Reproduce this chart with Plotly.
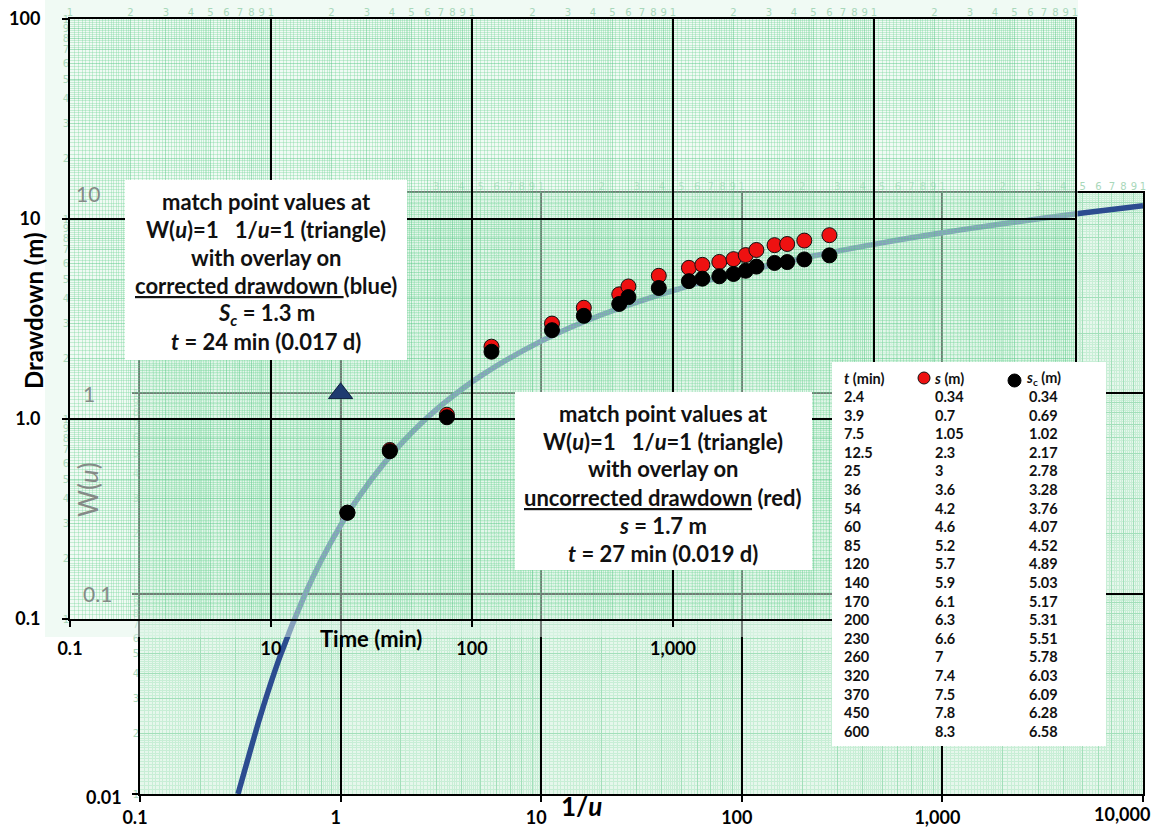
import math
import plotly.graph_objects as go

W, H = 1159, 828

# ---------------- data ----------------
t_min = [2.4, 3.9, 7.5, 12.5, 25, 36, 54, 60, 85, 120, 140, 170, 200, 230, 260, 320, 370, 450, 600]
s_m = [0.34, 0.7, 1.05, 2.3, 3, 3.6, 4.2, 4.6, 5.2, 5.7, 5.9, 6.1, 6.3, 6.6, 7, 7.4, 7.5, 7.8, 8.3]
sc_m = [0.34, 0.69, 1.02, 2.17, 2.78, 3.28, 3.76, 4.07, 4.52, 4.89, 5.03, 5.17, 5.31, 5.51, 5.78, 6.03, 6.09, 6.28, 6.58]

# Theis type curve read from the sheet (1/u, W(u))
inv_u = [0.308, 0.35, 0.4, 0.5, 0.667, 0.8, 1.0, 1.25, 1.667, 2.0, 2.5, 3.333, 5, 10, 20, 50,
         100, 200, 500, 1000, 2000, 5000, 10000]
w_u = [0.0100, 0.0157, 0.0249, 0.0489, 0.1000, 0.1464, 0.2194, 0.3106, 0.4544, 0.5598, 0.7024,
       0.9057, 1.2227, 1.8229, 2.4679, 3.3547, 4.0379, 4.7261, 5.6394, 6.3315, 7.0242, 7.9402, 8.6332]

match_inv_u = [1.0]
match_w = [1.0]

inv_u_tick_vals = [0.1, 1, 10, 100, 1000, 10000]
inv_u_tick_text = ["0.1", "1", "10", "100", "1,000", ""]
inv_u_last_label = "10,000"
w_tick_vals = [10, 1, 0.1]
w_tick_text = ["10", "1", "0.1"]
w_bottom_label = "0.01"
time_tick_vals = [0.1, 1, 10, 100, 1000, 10000]
time_tick_text = ["0.1", "10", "100", "1,000", "", ""]
dd_tick_vals = [100, 10, 1, 0.1]
dd_tick_text = ["100", "10", "1.0", "0.1"]

box1_lines = [
    "match point values at",
    "W(<i>u</i>)=1\u00a0\u00a0\u00a01/<i>u</i>=1 (triangle)",
    "with overlay on",
    "<u>corrected drawdown\u00a0</u>(blue)",
    "<i>S</i><sub><i>c</i></sub> = 1.3 m",
    "<i>t</i> = 24 min (0.017 d)",
]
box2_lines = [
    "match point values at",
    "W(<i>u</i>)=1\u00a0\u00a0\u00a01/<i>u</i>=1 (triangle)",
    "with overlay on",
    "<u>uncorrected drawdown</u> (red)",
    "<i>s</i> = 1.7 m",
    "<i>t</i> = 27 min (0.019 d)",
]
table_headers = ["<i>t</i> (min)", "<i>s</i> (m)", "<i>s</i><sub>c</sub> (m)"]

# ---------------- styling / geometry ----------------
FONT = "Lato"
BG = "#e6f7ec"
FINE = "#c8eed6"
MED = "#a2dfba"
FINE_T = "rgba(110,212,150,0.33)"
MED_T = "rgba(80,198,128,0.45)"
DIGIT = "#a9d8ba"


def px(x):
    return x / W


def py(y):
    return 1 - y / H


def xdom(a, b):
    return [a / W, b / W]


def ydom(top, bottom):
    return [1 - bottom / H, 1 - top / H]


BX, BY = xdom(140, 1143), ydom(193, 794)      # W(u) sheet
TX, TY = xdom(70, 1075), ydom(19, 619)        # drawdown sheet
SX, SY = xdom(45, 1078), ydom(0, 637)         # translucent overlay sheet

fine_m = [1 + 0.05 * i for i in range(1, 20)] + \
         [2 + 0.1 * i for i in range(1, 30) if i % 10] + \
         [5 + 0.2 * i for i in range(1, 25) if i % 5]
med_m = [2, 3, 4, 5, 6, 7, 8, 9]


def dec(ms, k0, k1):
    return [m * 10.0 ** k for k in range(k0, k1) for m in ms]


def digits(k0, k1):
    vals = [m * 10.0 ** k for k in range(k0, k1) for m in range(1, 10)] + [10.0 ** k1]
    txt = [str(m) for k in range(k0, k1) for m in range(1, 10)] + ["1"]
    return vals, txt


dfont = dict(family="DejaVu Sans", size=10, color=DIGIT)
mfont = dict(family=FONT, size=18, color="black", weight="bold")


def fine_axis(dom, rng, k0, k1, side, anchor, color):
    dv, dt = digits(k0, k1)
    return dict(domain=dom, range=rng, type="log", anchor=anchor, side=side, automargin=False,
                tickmode="array", tickvals=dv, ticktext=dt, tickfont=dfont,
                showgrid=False, ticks="", zeroline=False, showline=False, fixedrange=True,
                minor=dict(tickmode="array", tickvals=dec(fine_m, k0, k1), showgrid=True,
                           gridcolor=color, gridwidth=1, ticks=""))


def main_axis(dom, rng, k0, k1, side, anchor, tv, tt, color, **kw):
    d = dict(domain=dom, range=rng, type="log", anchor=anchor, side=side, automargin=False,
             tickmode="array", tickvals=tv, ticktext=tt, tickfont=mfont,
             showgrid=True, gridcolor="black", gridwidth=2,
             ticks="outside", ticklen=6, tickwidth=2, tickcolor="black",
             showline=True, linecolor="black", linewidth=2, mirror=True,
             zeroline=False, fixedrange=True,
             minor=dict(tickmode="array", tickvals=dec(med_m, k0, k1), showgrid=True,
                        gridcolor=color, gridwidth=1, ticks=""))
    d.update(kw)
    return d


fig = go.Figure()

# empty carriers so every layer subplot exists
for ax in ["", "3", "4"]:
    fig.add_trace(go.Scatter(x=[], y=[], xaxis="x" + ax, yaxis="y" + ax, showlegend=False))

# Theis curve on the W(u) sheet
fig.add_trace(go.Scatter(x=inv_u, y=w_u, xaxis="x2", yaxis="y2", mode="lines",
                         line=dict(color="#2c4c90", width=5.5, shape="spline"),
                         showlegend=False, hoverinfo="skip"))

# field data on the drawdown sheet
fig.add_trace(go.Scatter(x=t_min, y=s_m, xaxis="x5", yaxis="y5", mode="markers",
                         marker=dict(size=15, color="#ee1111", line=dict(color="#111", width=1)),
                         name="s", showlegend=False))
fig.add_trace(go.Scatter(x=t_min, y=sc_m, xaxis="x5", yaxis="y5", mode="markers",
                         marker=dict(size=15, color="black", line=dict(color="black", width=1)),
                         name="sc", showlegend=False))

# match point triangle
fig.add_trace(go.Scatter(x=match_inv_u, y=match_w, xaxis="x6", yaxis="y6", mode="markers",
                         marker=dict(symbol="triangle-up", size=21, color="#1f3b70",
                                     line=dict(color="#102040", width=1)),
                         showlegend=False))

layout = dict(
    width=W, height=H, margin=dict(l=0, r=0, t=0, b=0, autoexpand=False),
    paper_bgcolor="white", plot_bgcolor="rgba(0,0,0,0)",
    hovermode=False, showlegend=False,
    font=dict(family=FONT, color="black"),
    xaxis=fine_axis(BX, [-1, 4], -1, 4, "top", "y", FINE),
    yaxis=fine_axis(BY, [-2, 1], -2, 1, "left", "x", FINE),
    xaxis2=main_axis(BX, [-1, 4], -1, 4, "bottom", "y2", inv_u_tick_vals, inv_u_tick_text, MED,
                     ticklabelshift=-5, ticklabelstandoff=0),
    yaxis2=main_axis(BY, [-2, 1], -2, 1, "left", "x2", [0.01, 0.1, 1, 10], ["", "", "", ""], MED,
                     showticklabels=False),
    xaxis3=dict(domain=SX, range=[0, 1], anchor="y3", visible=False, fixedrange=True, automargin=False),
    yaxis3=dict(domain=SY, range=[0, 1], anchor="x3", visible=False, fixedrange=True, automargin=False),
    xaxis4=fine_axis(TX, [-1, 4], -1, 4, "top", "y4", FINE_T),
    yaxis4=fine_axis(TY, [-1, 2], -1, 2, "left", "x4", FINE_T),
    xaxis5=main_axis(TX, [-1, 4], -1, 4, "bottom", "y5", time_tick_vals, time_tick_text, MED_T,
                     ticklabelstandoff=6),
    yaxis5=main_axis(TY, [-1, 2], -1, 2, "left", "x5", dd_tick_vals, dd_tick_text, MED_T,
                     ticklabelstandoff=18),
    xaxis6=dict(domain=BX, range=[-1, 4], type="log", anchor="y6", visible=False, fixedrange=True,
                automargin=False),
    yaxis6=dict(domain=BY, range=[-2, 1], type="log", anchor="x6", visible=False, fixedrange=True,
                automargin=False),
)
fig.update_layout(**layout)

shapes = [
    # W(u) sheet background
    dict(type="rect", xref="x", yref="y", x0=0.1, x1=10000, y0=0.01, y1=10,
         fillcolor=BG, line=dict(width=0), layer="below"),
    # translucent drawdown sheet laid over it
    dict(type="rect", xref="x3", yref="y3", x0=0, x1=1, y0=0, y1=1,
         fillcolor="rgba(226,245,233,0.5)", line=dict(width=0), layer="below"),
    # white text panels
    dict(type="rect", xref="paper", yref="paper", x0=px(125), x1=px(407), y0=py(360), y1=py(180),
         fillcolor="white", line=dict(width=0), layer="above"),
    dict(type="rect", xref="paper", yref="paper", x0=px(515), x1=px(812), y0=py(570), y1=py(392),
         fillcolor="white", line=dict(width=0), layer="above"),
    dict(type="rect", xref="paper", yref="paper", x0=px(832), x1=px(1106), y0=py(746), y1=py(362),
         fillcolor="white", line=dict(width=0), layer="above"),
    # table header symbols
    dict(type="circle", xref="paper", yref="paper", x0=px(918), x1=px(930), y0=py(384), y1=py(372),
         fillcolor="#ee1111", line=dict(color="#111", width=1), layer="above"),
    dict(type="circle", xref="paper", yref="paper", x0=px(1008), x1=px(1021), y0=py(387), y1=py(374),
         fillcolor="black", line=dict(color="black", width=1), layer="above"),
]
fig.update_layout(shapes=shapes)

ann = []


def note(x, y, text, font, xanchor="center", yanchor="middle", **kw):
    d = dict(x=x, y=y, xref=kw.pop("xref", "paper"), yref=kw.pop("yref", "paper"), text=text,
             showarrow=False, font=font, xanchor=xanchor, yanchor=yanchor)
    d.update(kw)
    ann.append(d)


tfont = dict(family=FONT, size=22, color="#111", weight="bold")
for i, line in enumerate(box1_lines):
    note(px(266), py(202 + 27.9 * i), line, tfont)
for i, line in enumerate(box2_lines):
    note(px(663), py(413 + 28.0 * i), line, tfont)

# data table
cfont = dict(family=FONT, size=14.5, color="#111", weight="bold")
col_x = [842, 933, 1027]
head_x = [842, 932, 1024]
for j, h in enumerate(table_headers):
    note(px(head_x[j]), py(378), h, cfont, xanchor="left")
for i in range(len(t_min)):
    for j, col in enumerate([t_min, s_m, sc_m]):
        note(px(col_x[j]), py(396.5 + 18.6 * i), f"{col[i]:g}", cfont, xanchor="left")

# axis titles and extra labels
note(px(33), py(311), "Drawdown (m)", dict(family=FONT, size=24, weight="bold"), textangle=-90)
note(px(371), py(638), "Time (min)", dict(family=FONT, size=22, weight="bold"))
note(px(581), py(806), "1/<i>u</i>", dict(family=FONT, size=26, weight="bold"))
note(px(88), py(490), "W(<i>u</i>)", dict(family=FONT, size=26, color="#858a87"), textangle=-90)
gx = [88, 89, 97]
for v, t, xx in zip(w_tick_vals, w_tick_text, gx):
    note(px(xx), math.log10(v), t, dict(family=FONT, size=21, color="#858a87"), yref="y2")
note(px(104), math.log10(0.01), w_bottom_label, dict(family=FONT, size=18, weight="bold"),
     yref="y2", yshift=-3)
note(math.log10(10000), py(814), inv_u_last_label, dict(family=FONT, size=18, weight="bold"),
     xref="x2", xanchor="right", xshift=9)
fig.update_layout(annotations=ann)

fig.write_html("out.html", config={"displayModeBar": False},
               post_script="document.body.style.margin='0';"
                           "document.body.style.overflow='hidden';")
